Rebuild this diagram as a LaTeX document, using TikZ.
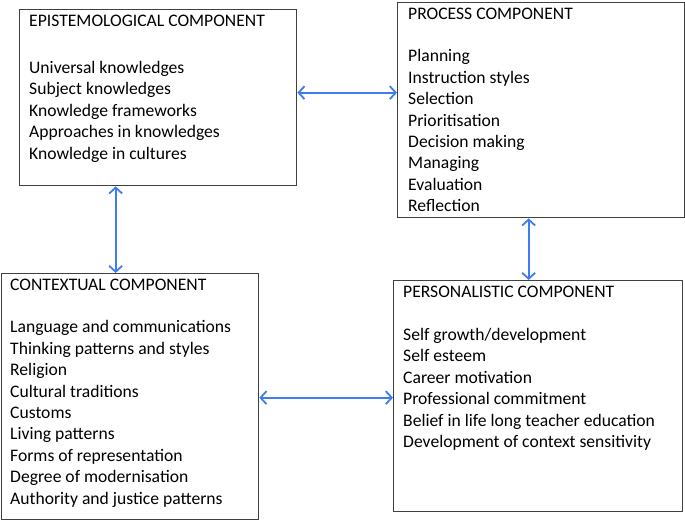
\documentclass[tikz,border=0pt]{standalone}
\usepackage{fontspec}
\setmainfont{Carlito}
\usetikzlibrary{arrows.meta}
\definecolor{linkblue}{RGB}{62,124,242}
\definecolor{boxgray}{RGB}{64,64,64}

\begin{document}
\begin{tikzpicture}[x=1pt, y=-1pt, >={Straight Barb[length=6pt,width=13pt]},
    box/.style={draw=boxgray, line width=1.3pt, anchor=north west, inner sep=0pt},
    txt/.style={anchor=north west, align=left, inner sep=0pt,
        font=\fontsize{17.6}{21.4}\selectfont},
    link/.style={<->, draw=linkblue, line width=1.8pt}]
    \useasboundingbox (0,0) rectangle (685,523);

    % 四个方框
    \node[box, minimum width=277pt, minimum height=176pt] (epi) at (19,9) {};
    \node[box, minimum width=287pt, minimum height=215pt] (proc) at (397,2) {};
    \node[box, minimum width=257pt, minimum height=246pt] (ctx) at (1,273) {};
    \node[box, minimum width=289pt, minimum height=231pt] (pers) at (393,280) {};

    % 方框内文字
    \node[txt] (epitxt) at ([shift={(10,5.5)}]epi.north west) {EPISTEMOLOGICAL COMPONENT\\[26pt]
        Universal knowledges\\ Subject knowledges\\ Knowledge frameworks\\
        Approaches in knowledges\\ Knowledge in cultures};
    \node[txt] (proctxt) at ([shift={(11,5.5)}]proc.north west) {PROCESS COMPONENT\\[21.4pt]
        Planning\\ Instruction styles\\ Selection\\ Prioritisation\\
        Decision making\\ Managing\\ Evaluation\\ Reflection};
    \node[txt] (ctxtxt) at ([shift={(9,5.5)}]ctx.north west) {CONTEXTUAL COMPONENT\\[21.4pt]
        Language and communications\\ Thinking patterns and styles\\ Religion\\
        Cultural traditions\\ Customs\\ Living patterns\\ Forms of representation\\
        Degree of modernisation\\ Authority and justice patterns};
    \node[txt] (perstxt) at ([shift={(10,6)}]pers.north west) {PERSONALISTIC COMPONENT\\[21.4pt]
        Self growth/development\\ Self esteem\\ Career motivation\\
        Professional commitment\\ Belief in life long teacher education\\
        Development of context sensitivity};

    % 双向箭头
    \draw[link] ([yshift=5pt]epi.east) -- ([yshift=5pt]epi.east -| proc.west);
    \draw[link] ([xshift=-42.5pt]epi.south) -- ([xshift=-42.5pt]epi.south |- ctx.north);
    \draw[link] ([xshift=-12.5pt]proc.south) -- ([xshift=-12.5pt]proc.south |- pers.north);
    \draw[link] ([yshift=-1pt]ctx.east) -- ([yshift=-1pt]ctx.east -| pers.west);
\end{tikzpicture}
\end{document}
